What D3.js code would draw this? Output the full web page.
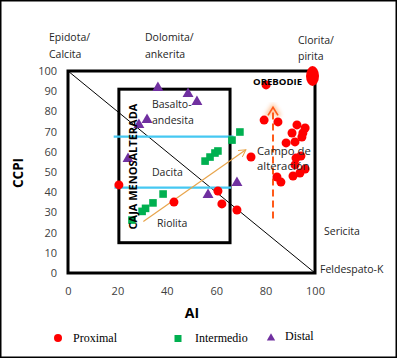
<!DOCTYPE html>
<html><head><meta charset="utf-8">
<script src="https://cdn.jsdelivr.net/npm/d3@7"></script>
<style>body{margin:0;background:#fff}svg{display:block}</style>
</head><body>
<script>
// ---------- data ----------
const aiTicks = [0, 20, 40, 60, 80, 100];
const ccpiTicks = [0, 10, 20, 30, 40, 50, 60, 70, 80, 90, 100];
const proximal = [
  [20.6,43.6],[42.9,35.1],[60.7,40.6],[62.3,34.2],[68.4,31.2],[74.1,57.4],
  [79.4,75.7],[85.0,74.8],[80.2,93.1],[92.7,73.3],[96.0,71.8],[90.7,69.3],
  [95.1,69.3],[94.7,67.3],[88.3,64.4],[91.9,64.9],[92.3,56.9],[94.3,57.9],
  [91.9,53.5],[96.0,51.5],[93.9,49.5],[91.1,48.0],[84.6,47.5],[86.2,45.0]
];
const intermedio = [
  [25.9,26.2],[30.0,30.5],[31.4,32.0],[34.4,34.7],[38.5,39.1],
  [55.5,55.4],[57.5,57.4],[59.5,59.4],[60.7,60.4],[66.4,65.8],[69.6,69.8]
];
const distal = [
  [36.4,92.1],[48.6,89.1],[52.2,85.1],[32.0,76.2],[28.7,73.8],
  [24.3,56.9],[56.7,39.1],[68.4,45.0]
];
const orebodie = [[99.0, 97.5]];
const innerBox = {x0: 20.6, x1: 65.6, y0: 15, y1: 91};
const cyanLines = [{y: 67.5, x0: 18.5, x1: 67}, {y: 42.3, x0: 18.8, x1: 66}];
const trendLine = [[30.5, 25.5], [72, 61]];
const alterArrow = [[83, 27], [83, 82]];
const legendItems = ["Proximal", "Intermedio", "Distal"];

// ---------- svg ----------
const W = 397, H = 358;
const svg = d3.select("body").append("svg").attr("width", W).attr("height", H);
const defs = svg.append("defs");
defs.append("filter").attr("id","glow").attr("x","-50%").attr("y","-50%").attr("width","200%").attr("height","200%")
  .append("feGaussianBlur").attr("stdDeviation", 2);
defs.append("marker").attr("id","arr").attr("viewBox","0 0 10 10").attr("refX",9).attr("refY",5)
  .attr("markerWidth",8).attr("markerHeight",8).attr("orient","auto").attr("markerUnits","userSpaceOnUse")
  .append("path").attr("d","M0,0L9,5L0,10").attr("fill","none").attr("stroke","#e8a54c").attr("stroke-width",1.3);

svg.append("rect").attr("x",0.75).attr("y",0.75).attr("width",W-1.5).attr("height",H-1.5)
  .attr("fill","#fff").attr("stroke","#000").attr("stroke-width",1.5);

const x = d3.scaleLinear().domain([0,100]).range([68,315]);
const y = d3.scaleLinear().domain([0,100]).range([273,71]);
const sans = "'Open Sans', 'Noto Sans', sans-serif";

// axes (labels only)
const xAxis = svg.append("g").attr("transform","translate(0,273)")
  .call(d3.axisBottom(x).tickValues(aiTicks).tickSize(0).tickPadding(14));
const yAxis = svg.append("g").attr("transform","translate(68,0)")
  .call(d3.axisLeft(y).tickValues(ccpiTicks).tickSize(0).tickPadding(11));
[xAxis, yAxis].forEach(a => {
  a.select(".domain").remove();
  a.selectAll("text").attr("font-family", sans).attr("font-size", 11).attr("fill","#404040");
});

// plot frame
svg.append("rect").attr("x",x(0)).attr("y",y(100)).attr("width",x(100)-x(0)).attr("height",y(0)-y(100))
  .attr("fill","none").attr("stroke","#000").attr("stroke-width",3);

// diagonal
svg.append("line").attr("x1",x(0)).attr("y1",y(100)).attr("x2",x(100)).attr("y2",y(0))
  .attr("stroke","#000").attr("stroke-width",1);

// inner box
svg.append("rect").attr("x",x(innerBox.x0)).attr("y",y(innerBox.y1))
  .attr("width",x(innerBox.x1)-x(innerBox.x0)).attr("height",y(innerBox.y0)-y(innerBox.y1))
  .attr("fill","none").attr("stroke","#000").attr("stroke-width",3);

// cyan lines
cyanLines.forEach(c => {
  svg.append("line").attr("x1",x(c.x0)).attr("x2",x(c.x1)).attr("y1",y(c.y)).attr("y2",y(c.y))
    .attr("stroke","#8ee0f8").attr("stroke-width",7).attr("filter","url(#glow)");
  svg.append("line").attr("x1",x(c.x0)).attr("x2",x(c.x1)).attr("y1",y(c.y)).attr("y2",y(c.y))
    .attr("stroke","#45c8f2").attr("stroke-width",2.2);
});

// trend line with arrow
svg.append("line").attr("x1",x(trendLine[0][0])).attr("y1",y(trendLine[0][1]))
  .attr("x2",x(trendLine[1][0])).attr("y2",y(trendLine[1][1]))
  .attr("stroke","#e8a54c").attr("stroke-width",1.2).attr("marker-end","url(#arr)");

// alteration dashed arrow with glow
const ax = x(alterArrow[0][0]), ayb = y(alterArrow[0][1]), ayt = y(alterArrow[1][1]);
svg.append("line").attr("x1",ax).attr("x2",ax).attr("y1",ayb).attr("y2",ayt+4)
  .attr("stroke","#ffb27a").attr("stroke-width",8).attr("opacity",0.75).attr("filter","url(#glow)");
svg.append("path").attr("d",`M${ax-6},${ayt+9}L${ax},${ayt}L${ax+6},${ayt+9}`)
  .attr("fill","none").attr("stroke","#ffb27a").attr("stroke-width",5).attr("opacity",0.75).attr("filter","url(#glow)");
svg.append("line").attr("x1",ax).attr("x2",ax).attr("y1",ayb).attr("y2",ayt+2)
  .attr("stroke","#ff5a1a").attr("stroke-width",2).attr("stroke-dasharray","7,4");
svg.append("path").attr("d",`M${ax-5},${ayt+8}L${ax},${ayt}L${ax+5},${ayt+8}`)
  .attr("fill","none").attr("stroke","#ff5a1a").attr("stroke-width",1.6);

// points
const red = "#ff0000", green = "#00b050", purple = "#7030a0";
svg.append("g").selectAll("circle").data(proximal).join("circle")
  .attr("cx",d=>x(d[0])).attr("cy",d=>y(d[1])).attr("r",4.5).attr("fill",red);
svg.append("g").selectAll("ellipse").data(orebodie).join("ellipse")
  .attr("cx",d=>x(d[0])).attr("cy",d=>y(d[1])).attr("rx",6.5).attr("ry",10).attr("fill",red);
svg.append("g").selectAll("rect").data(intermedio).join("rect")
  .attr("x",d=>x(d[0])-3.8).attr("y",d=>y(d[1])-3.8).attr("width",7.6).attr("height",7.6).attr("fill",green);
const tri = d3.symbol().type(d3.symbolTriangle).size(52);
svg.append("g").selectAll("path").data(distal).join("path")
  .attr("transform",d=>`translate(${x(d[0])},${y(d[1])+0.8})`).attr("d",tri).attr("fill",purple);

// annotation text
function txt(t, px, py, opts = {}) {
  return svg.append("text").attr("x",px).attr("y",py).text(t)
    .attr("font-family", opts.family || sans).attr("font-size", opts.size || 10.5)
    .attr("font-weight", opts.weight || "normal").attr("fill", opts.fill || "#262626")
    .attr("text-anchor", opts.anchor || "start");
}
txt("Epidota/", 49, 41); txt("Calcita", 49, 58);
txt("Dolomita/", 145, 41); txt("ankerita", 145, 58);
txt("Clorita/", 298, 44); txt("pirita", 298, 60);
txt("OREBODIE", 253, 85, {weight:"bold", size:9.6, fill:"#000"});
txt("Basalto-", 152, 108); txt("andesita", 152, 124);
txt("Dacita", 152, 176); txt("Riolita", 157, 227);
txt("Campo de", 257, 155, {size:11.3}); txt("alteración", 257, 170, {size:11.3});
txt("Sericita", 324, 235); txt("Feldespato-K", 320, 273);
svg.append("text").attr("transform","translate(137,166.5) rotate(-90)")
  .attr("text-anchor","middle").attr("font-family",sans).attr("font-weight","bold")
  .attr("font-size",11).attr("fill","#000").text("CAJA MENOSALTERADA");

// axis titles
svg.append("text").attr("transform","translate(23,173) rotate(-90)").attr("text-anchor","middle")
  .attr("font-family",sans).attr("font-weight","bold").attr("font-size",13.5).attr("fill","#000").text("CCPI");
svg.append("text").attr("x",192).attr("y",318).attr("text-anchor","middle")
  .attr("font-family",sans).attr("font-weight","bold").attr("font-size",14).attr("fill","#000").text("AI");

// legend
const serif = "'Liberation Serif', 'Times New Roman', serif";
const leg = [{sx:58, tx:73}, {sx:178, tx:195}, {sx:271, tx:285}];
svg.append("circle").attr("cx",leg[0].sx).attr("cy",338).attr("r",4).attr("fill",red);
svg.append("rect").attr("x",leg[1].sx-3.5).attr("y",335).attr("width",7).attr("height",7).attr("fill",green);
svg.append("path").attr("transform",`translate(${leg[2].sx},338)`).attr("d",d3.symbol().type(d3.symbolTriangle).size(30)).attr("fill",purple);
legendItems.forEach((t,i) => {
  svg.append("text").attr("x",leg[i].tx).attr("y", i===2 ? 340 : 342).text(t)
    .attr("font-family",serif).attr("font-size",12).attr("fill","#000");
});
</script>
</body></html>
